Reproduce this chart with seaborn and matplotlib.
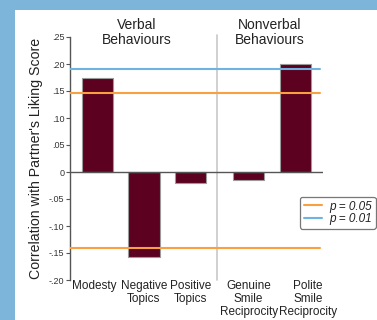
import matplotlib
matplotlib.use("Agg")
import matplotlib.pyplot as plt
import matplotlib.transforms as mtrans
import seaborn as sns
import pandas as pd
from matplotlib.patches import Rectangle
from matplotlib.lines import Line2D

categories = ["Modesty", "Negative\nTopics", "Positive\nTopics",
              "Genuine\nSmile\nReciprocity", "Polite\nSmile\nReciprocity"]
groups = ["Verbal", "Verbal", "Verbal", "Nonverbal", "Nonverbal"]
values = [0.175, -0.157, -0.020, -0.015, 0.200]
p05 = 0.146
p05_neg = -0.141
p01 = 0.191
yticks = [0.25, 0.20, 0.15, 0.10, 0.05, 0, -0.05, -0.10, -0.15, -0.20]
ytick_labels = [".25", ".20", ".15", ".10", ".05", "0", "-.05", "-.10", "-.15", "-.20"]
group_titles = ["Verbal\nBehaviours", "Nonverbal\nBehaviours"]
legend_labels = ["p = 0.05", "p = 0.01"]

# positions with a gap between groups
pos = []
p = 0.0
for i, g in enumerate(groups):
    if i > 0:
        p += 1.0 if g == groups[i - 1] else 1.25
    pos.append(p)

df = pd.DataFrame({"pos": pos, "value": values, "cat": categories})

sns.set_theme(style="white")
plt.rcParams['font.family'] = ['Liberation Sans', 'DejaVu Sans']

W, H = 377, 320
fig = plt.figure(figsize=(W / 100, H / 100), dpi=100)
fig.patch.set_facecolor("#7DB5DA")
fig.patches.append(Rectangle((15 / W, 0), 1, (H - 10) / H, transform=fig.transFigure,
                             facecolor="white", edgecolor="none", zorder=-10))

ax = fig.add_axes([70 / W, (H - 280) / H, (323 - 70) / W, (280 - 37) / H])
ax.set_facecolor("none")
sns.barplot(data=df, x="pos", y="value", native_scale=True, width=0.67,
            color="#5C0120", saturation=1, edgecolor="#9a9a9a", linewidth=0.8, ax=ax, zorder=3)

ax.set_xlim(-0.59, 4.85)
ax.set_ylim(-0.20, 0.25)
ax.set_yticks(yticks)
ax.set_yticklabels(ytick_labels, fontsize=6.5, color="#333333")
ax.set_xticks(pos)
ax.set_xticklabels(categories, fontsize=8.5, color="#222222", linespacing=1.13)
ax.tick_params(axis="x", length=0, pad=0)
ax.tick_params(axis="y", length=3, width=0.8, color="#555555", direction="out", pad=1, left=True)
# shift edge labels slightly as in the reference
xl = ax.get_xticklabels()
xl[0].set_transform(xl[0].get_transform() + mtrans.ScaledTranslation(-3 / 100, 0, fig.dpi_scale_trans))
xl[-1].set_transform(xl[-1].get_transform() + mtrans.ScaledTranslation(13 / 100, 0, fig.dpi_scale_trans))
ax.set_xlabel("")
ax.set_ylabel("Correlation with Partner's Liking Score", fontsize=10.2, color="#222222", labelpad=4)

for s in ["top", "right", "bottom"]:
    ax.spines[s].set_visible(False)
ax.spines["left"].set_color("#555555")
ax.spines["left"].set_linewidth(1.0)

ax.axhline(0, color="#555555", linewidth=1.0, zorder=4)
xend = (320 - 70) / (323 - 70)
ax.axhline(p05, xmax=xend, color="#F9A040", linewidth=1.5, zorder=5)
ax.axhline(p05_neg, xmax=xend, color="#F9A040", linewidth=1.5, zorder=5)
ax.axhline(p01, xmax=xend, color="#6FB4E0", linewidth=1.5, zorder=5)

div = (pos[2] + pos[3]) / 2 - 0.055
ax.plot([div, div], [-0.20, 0.254], color="#c8c8c8", linewidth=1.2, zorder=2, clip_on=False)

verbal_c = sum(pp for pp, g in zip(pos, groups) if g == "Verbal") / groups.count("Verbal")
nonverbal_c = sum(pp for pp, g in zip(pos, groups) if g == "Nonverbal") / groups.count("Nonverbal")
ax.text(verbal_c - 0.15, 0.232, group_titles[0], ha="center", va="bottom", fontsize=10, color="#222222", linespacing=1.1)
ax.text(nonverbal_c - 0.04, 0.232, group_titles[1], ha="center", va="bottom", fontsize=10, color="#222222", linespacing=1.1)

handles = [Line2D([], [], color="#F9A040", linewidth=1.5),
           Line2D([], [], color="#6FB4E0", linewidth=1.5)]
leg = fig.legend(handles, legend_labels, loc="upper left",
                 bbox_to_anchor=(300 / W, (H - 197) / H), frameon=True,
                 handlelength=1.6, handletextpad=0.6, borderpad=0.3, labelspacing=0.05,
                 borderaxespad=0, fancybox=True, prop={"style": "italic", "size": 8.5})
leg.get_frame().set_edgecolor("#555555")
leg.get_frame().set_linewidth(0.9)
for t in leg.get_texts():
    t.set_color("#222222")

fig.savefig("out.png", dpi=100, facecolor=fig.get_facecolor())
